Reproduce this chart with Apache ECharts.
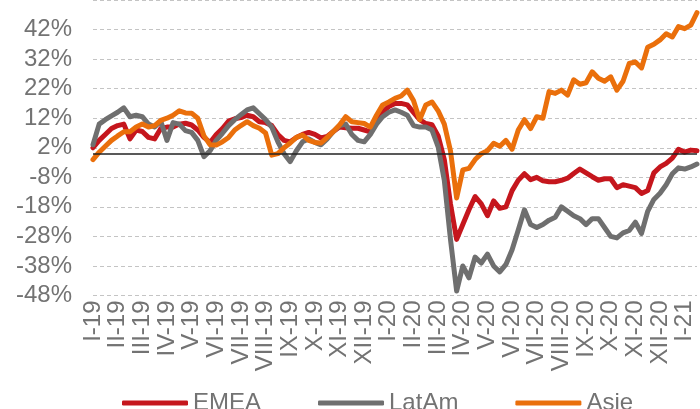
<!DOCTYPE html>
<html>
<head>
<meta charset="utf-8">
<script src="https://cdn.jsdelivr.net/npm/echarts@6/dist/echarts.min.js"></script>
<style>
html,body{margin:0;padding:0;background:#fff;}
#c{width:700px;height:409px;}
</style>
</head>
<body>
<div id="c"></div>
<script>
// Month tick labels (one every 4 weekly points)
const monthLabels = ['I-19','II-19','III-19','IV-19','V-19','VI-19','VII-19','VIII-19','IX-19','X-19','XI-19','XII-19',
  'I-20','II-20','III-20','IV-20','V-20','VI-20','VII-20','VIII-20','IX-20','X-20','XI-20','XII-20','I-21'];
const pointsPerMonth = 4;
const extraPoints = 3; // points from I-21 onwards

// Series values (% change), ~weekly readings
const emea = [2,4.5,6.5,8.5,9.5,10,5,8,7.5,5.5,5,8.5,9,9,10,10.3,9.7,8,5.5,3.8,
  6.5,8.5,11,11.8,12.2,13,12.5,10.8,10.5,9.5,6.5,4.5,4,5.5,6.5,7.2,6.5,5.3,5.8,7.5,
  9,8.8,8.6,8.6,8,7.4,11,14,16,17,17,16.5,14,11.5,10.2,9.8,6,-2,-17,-29,
  -24,-19,-14.5,-17,-21,-16,-18.5,-18,-12.5,-9,-6.8,-8.8,-8,-9.2,-9.5,-9.5,-9,-8.3,-6.7,-5.2,
  -6.5,-7.8,-9,-8.5,-8.5,-11.5,-10.5,-11,-11.5,-13.5,-12.5,-6.5,-4.5,-3.3,-1.5,1.5,0.5,1.2,1];
const latam = [3,10,11.5,12.8,14,15.5,12.5,13,12.5,10,9,11,4.5,10.5,10,7.8,7.2,4.5,-1,1,
  4.5,6.9,9.5,11.5,13.2,14.8,15.5,13.5,11.5,9,4,0,-2.7,1,4,5,3.8,3,5,7.5,
  9.5,10,6.5,4.5,4,6.5,10,12.5,14,14.8,14,13,9.5,9,9,8,2.3,-9,-29,-46.5,
  -38,-42,-35,-37,-34,-38,-40,-37.5,-32.5,-25.8,-19,-24,-25,-24,-22.5,-21.5,-18,-19.5,-21,-22,
  -24,-22,-22,-25,-28,-28.5,-26.8,-26,-23.2,-27,-19.5,-15.5,-13.4,-10.5,-6.8,-4.8,-5.2,-4.5,-3.5];
const asie = [-2,0.5,2.5,4.5,6,7.4,7.4,9,10,9,9.5,11.3,12,13,14.5,13.8,13.7,12,6,3,
  2.9,4,5.5,8,9.5,10.8,9.5,8.6,7,-0.5,0,2,3.6,5.5,6.3,4.5,3.8,3.6,5.5,7.5,
  9.7,12.5,10.8,10.5,10.2,9,13,16.5,17.5,18.7,19.5,21.5,18,11.5,16.5,17.5,14.5,10,1,-15,
  -5.5,-5,-2,0,1,3.5,2.5,4.5,1.5,8,11.5,8.5,12.5,12,21,20.4,21.5,19.8,25,23.5,
  24,27.7,25.5,24.5,26,21.5,24.5,30.5,31,29,36,37,38.5,40.6,39.5,43,42.3,43.5,47.7];

const seriesNames = ['EMEA','LatAm','Asie'];
const colors = ['#C5161D','#6F6F6F','#EA6F0B'];

// Y axis range
const yMin = -48, yMax = 52, yStep = 10;

// Build categories
const categories = [];
monthLabels.forEach((m, i) => {
  const n = (i === monthLabels.length - 1) ? extraPoints : pointsPerMonth;
  for (let w = 0; w < n; w++) categories.push(w === 0 ? m : m + '#' + w);
});

const textColor = '#737373';
const fontFamily = 'Liberation Sans, Arial, sans-serif';
const fs = 24;

const chart = echarts.init(document.getElementById('c'), null, {renderer: 'canvas'});
const mk = (name, data, color, z) => ({
  name, type: 'line', data, symbol: 'none', z,
  lineStyle: {color, width: 5, cap: 'round', join: 'round'},
  itemStyle: {color},
  emphasis: {disabled: true}
});
chart.setOption({
  animation: false,
  grid: {left: 93, right: 3, top: -0.5, bottom: 113.5, containLabel: false},
  legend: {
    data: seriesNames,
    left: 117, top: 386,
    icon: 'roundRect', itemWidth: 66, itemHeight: 5, itemGap: 57,
    textStyle: {color: textColor, fontSize: fs, fontFamily, padding: [0,0,0,0]},
  },
  xAxis: {
    type: 'category', data: categories, boundaryGap: false,
    axisLine: {show: false}, axisTick: {show: false},
    splitLine: {show: false},
    axisLabel: {
      interval: pointsPerMonth - 1, rotate: 90, margin: 5,
      color: textColor, fontSize: fs, fontFamily,
      formatter: v => v.indexOf('#') >= 0 ? '' : v
    }
  },
  yAxis: {
    type: 'value', min: yMin, max: yMax, interval: yStep,
    axisLine: {show: false}, axisTick: {show: false},
    axisLabel: {showMaxLabel: false, margin: 21, color: textColor, fontSize: fs, fontFamily,
      formatter: v => v + '%'},
    splitLine: {lineStyle: {color: '#C4C4C4', width: 1, type: [4, 3]}}
  },
  series: [
    {name: 'zero', type: 'line', data: [], z: 1, silent: true,
     markLine: {silent: true, symbol: 'none', label: {show: false},
       lineStyle: {color: '#222', width: 1.5, type: 'solid'}, data: [{yAxis: 0}]}},
    mk(seriesNames[0], emea, colors[0], 2),
    mk(seriesNames[1], latam, colors[1], 3),
    mk(seriesNames[2], asie, colors[2], 4)
  ]
});
</script>
</body>
</html>
